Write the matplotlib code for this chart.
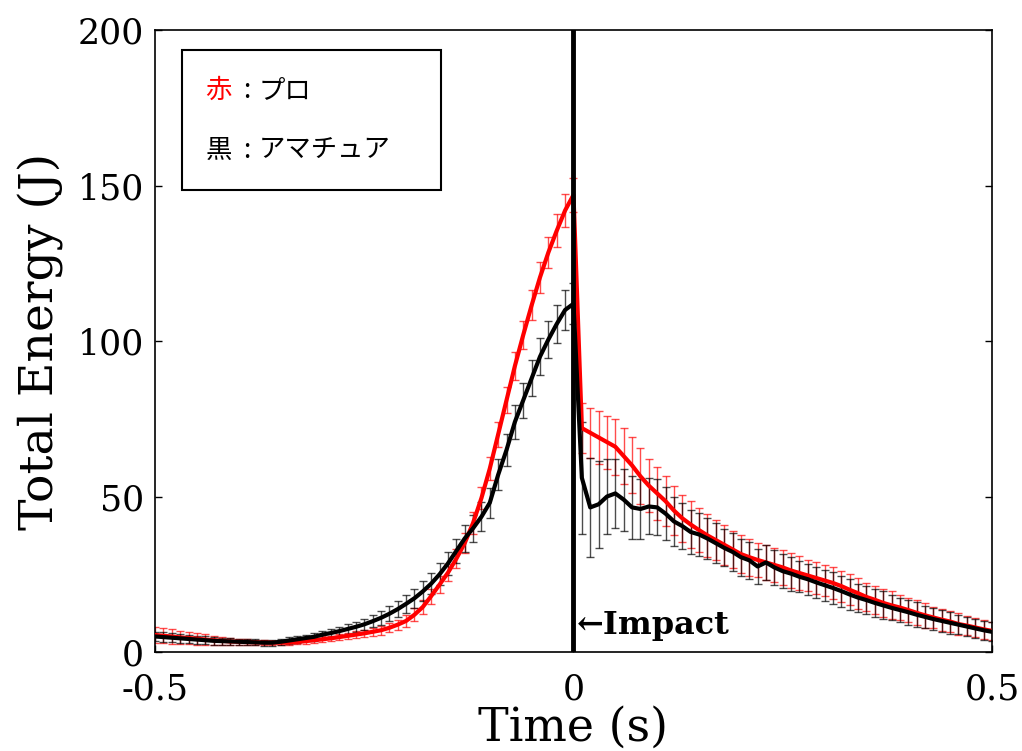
import numpy as np
import matplotlib
matplotlib.use("Agg")
import matplotlib.pyplot as plt
from matplotlib.patches import Rectangle

# 時間 (s) : -0.5 ~ 0.5, 0.01 s 刻み
time = np.round(np.linspace(-0.5, 0.5, 101), 2)

# 赤 : プロ (平均)
pro_mean = [
    5.5, 5.2, 5.0, 4.7, 4.5, 4.3, 4.0, 3.8, 3.6, 3.4,
    3.3, 3.2, 3.1, 3.0, 3.0, 3.0, 3.0, 3.2, 3.5, 3.8,
    4.1, 4.4, 4.8, 5.2, 5.6, 6.0, 6.5, 7.0, 7.8, 8.8,
    10.0, 12.0, 14.5, 18.0, 21.7, 25.5, 30.0, 35.0, 41.5, 49.5,
    59.0, 70.0, 81.0, 92.0, 102.0, 111.5, 120.5, 128.5, 135.5, 142.0,
    147.0,
    72.0, 70.5, 69.0, 67.5, 66.0, 63.0, 60.0, 56.5, 53.5, 51.0,
    48.5, 45.5, 43.0, 41.0, 39.2, 37.5, 36.0, 34.5, 33.0, 31.5,
    30.5, 29.6, 28.8, 28.0, 27.2, 26.2, 25.4, 24.6, 23.8, 23.0,
    22.2, 21.2, 20.0, 18.9, 17.7, 16.8, 15.8, 15.0, 14.3, 13.5,
    12.6, 11.8, 11.1, 10.4, 9.8, 9.0, 8.5, 7.9, 7.3, 6.8,
]
pro_sd = [
    2.5, 2.4, 2.3, 2.2, 2.0, 1.9, 1.7, 1.5, 1.3, 1.2,
    1.0, 0.9, 0.8, 0.8, 0.7, 0.7, 0.7, 0.7, 0.8, 0.8,
    0.9, 0.9, 1.0, 1.0, 1.1, 1.2, 1.3, 1.4, 1.5, 1.6,
    1.8, 2.0, 2.2, 2.4, 2.6, 2.8, 3.0, 3.2, 3.4, 3.6,
    3.8, 4.0, 4.2, 4.4, 4.6, 4.8, 5.0, 5.0, 5.2, 5.4,
    5.5,
    8.0, 8.0, 8.5, 8.5, 9.0, 9.0, 9.0, 9.0, 8.5, 8.5,
    8.0, 8.0, 7.5, 7.5, 7.0, 7.0, 6.5, 6.5, 6.0, 6.0,
    6.0, 5.5, 5.5, 5.5, 5.5, 5.5, 5.5, 5.0, 5.0, 5.0,
    5.0, 5.0, 5.0, 5.0, 4.5, 4.5, 4.5, 4.5, 4.0, 4.0,
    4.0, 4.0, 3.5, 3.5, 3.5, 3.5, 3.0, 3.0, 3.0, 3.0,
]

# 黒 : アマチュア (平均)
ama_mean = [
    5.0, 4.8, 4.6, 4.4, 4.2, 4.0, 3.8, 3.6, 3.5, 3.4,
    3.3, 3.2, 3.1, 3.0, 3.0, 3.3, 3.7, 4.1, 4.5, 4.9,
    5.6, 6.1, 6.7, 7.4, 8.1, 8.9, 9.9, 11.0, 12.3, 13.8,
    15.5, 17.3, 19.5, 22.0, 25.0, 28.5, 32.5, 36.5, 39.8, 43.5,
    48.0, 57.0, 65.0, 74.0, 81.0, 88.0, 95.0, 100.5, 105.5, 110.0,
    112.0,
    56.0, 46.5, 47.5, 50.0, 51.0, 49.0, 46.5, 46.0, 46.8, 46.5,
    44.5, 42.0, 40.5, 38.6, 37.8, 36.5, 35.0, 33.5, 32.2, 30.5,
    29.5, 27.5, 28.8, 27.2, 26.0, 25.2, 24.2, 23.4, 22.4, 21.5,
    20.6, 19.6, 18.5, 17.5, 16.7, 15.8, 15.0, 14.2, 13.5, 12.8,
    12.0, 11.3, 10.6, 10.0, 9.4, 8.8, 8.2, 7.6, 7.0, 6.5,
]
ama_sd = [
    1.5, 1.5, 1.4, 1.4, 1.3, 1.3, 1.2, 1.2, 1.1, 1.1,
    1.0, 1.0, 1.0, 1.0, 1.0, 1.0, 1.0, 1.1, 1.1, 1.2,
    1.3, 1.4, 1.5, 1.6, 1.7, 1.8, 2.0, 2.2, 2.4, 2.6,
    2.8, 3.0, 3.2, 3.4, 3.6, 3.8, 4.0, 4.2, 4.4, 4.6,
    4.8, 5.0, 5.2, 5.4, 5.6, 5.8, 6.0, 6.0, 6.2, 6.4,
    6.5,
    18.0, 16.0, 14.0, 12.0, 11.0, 10.0, 10.0, 9.5, 9.0, 9.0,
    8.5, 8.0, 7.5, 7.0, 7.0, 6.5, 6.5, 6.0, 6.0, 6.0,
    6.0, 5.5, 5.5, 5.5, 5.5, 5.5, 5.0, 5.0, 5.0, 5.0,
    5.0, 5.0, 5.0, 4.5, 4.5, 4.5, 4.5, 4.0, 4.0, 4.0,
    4.0, 3.5, 3.5, 3.5, 3.5, 3.0, 3.0, 3.0, 3.0, 3.0,
]

xticks = [-0.5, 0, 0.5]
xticklabels = ["-0.5", "0", "0.5"]
yticks = [0, 50, 100, 150, 200]

plt.rcParams['font.family'] = ['DejaVu Serif', 'DejaVu Sans']

fig = plt.figure(figsize=(10.22, 7.51), dpi=100)
ax = fig.add_axes([0.1517, 0.1318, 0.8189, 0.8282])

# エラーバー
ax.errorbar(time, pro_mean, yerr=pro_sd, fmt='none', ecolor='red',
            elinewidth=1.0, capsize=3, capthick=1.0, alpha=0.7, zorder=2)
ax.errorbar(time, ama_mean, yerr=ama_sd, fmt='none', ecolor='black',
            elinewidth=1.0, capsize=3, capthick=1.0, alpha=0.7, zorder=3)
# 平均
ax.plot(time, pro_mean, color='red', lw=3, zorder=4)
ax.plot(time, ama_mean, color='black', lw=3, zorder=5)

# インパクト
ax.axvline(0, color='black', lw=3.5, zorder=6)
ax.text(0.004, 8.5, "\u2190Impact", fontsize=23, fontweight='bold',
        va='center', ha='left', zorder=7)

ax.set_xlim(-0.5, 0.5)
ax.set_ylim(0, 200)
ax.set_xticks(xticks)
ax.set_xticklabels(xticklabels)
ax.set_yticks(yticks)
ax.tick_params(direction='in', length=5, width=1, labelsize=25,
               right=True, top=False)
ax.tick_params(axis='x', pad=15)
ax.tick_params(axis='y', pad=8)
for s in ax.spines.values():
    s.set_linewidth(1.2)

ax.set_xlabel("Time (s)", fontsize=33, labelpad=-1)
ax.set_ylabel("Total Energy (J)", fontsize=34, labelpad=10)

# 凡例ボックス
ax.add_patch(Rectangle((0.032, 0.743), 0.31, 0.225, transform=ax.transAxes,
                       fill=False, edgecolor='black', lw=1.5, zorder=8))
jp = ['Noto Sans CJK JP', 'DejaVu Sans']
ax.text(0.060, 0.903, "赤", color='red', fontsize=19, family=jp,
        transform=ax.transAxes, va='center', zorder=9)
ax.text(0.105, 0.903, ":", color='black', fontsize=19, family=jp,
        transform=ax.transAxes, va='center', zorder=9)
ax.text(0.124, 0.903, "プロ", color='black', fontsize=19, family=jp,
        transform=ax.transAxes, va='center', zorder=9)
ax.text(0.060, 0.807, "黒", color='black', fontsize=19, family=jp,
        transform=ax.transAxes, va='center', zorder=9)
ax.text(0.105, 0.807, ":", color='black', fontsize=19, family=jp,
        transform=ax.transAxes, va='center', zorder=9)
ax.text(0.124, 0.807, "アマチュア", color='black', fontsize=19, family=jp,
        transform=ax.transAxes, va='center', zorder=9)

fig.savefig("out.png", dpi=100)
